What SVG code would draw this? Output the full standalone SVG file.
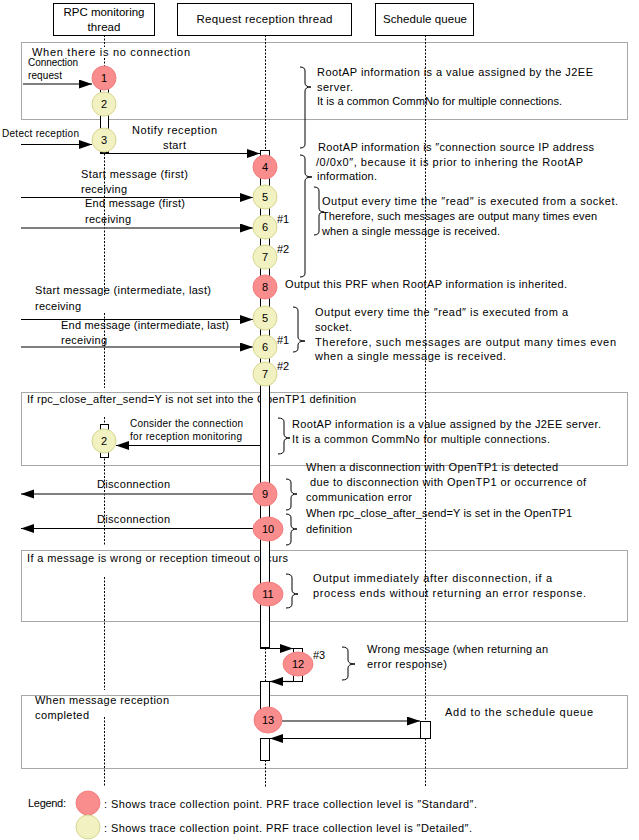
<svg xmlns="http://www.w3.org/2000/svg" width="639" height="840" viewBox="0 0 639 840">
<defs>
<marker id="ah" markerUnits="userSpaceOnUse" markerWidth="14" markerHeight="10" refX="13" refY="4.5" orient="auto">
<path d="M0,0 L13,4.5 L0,9 z" fill="#000"/>
</marker>
</defs>
<style>
text{font-family:"Liberation Sans",Arial,sans-serif;font-size:11px;fill:#000}
.sm{font-size:10px}
.hd{font-size:11.5px;text-anchor:middle}
.num{font-size:11px;text-anchor:middle}
.frame{fill:none;stroke:#a8a8a8;stroke-width:1}
.box{fill:#fff;stroke:#000;stroke-width:1}
.life{stroke:#000;stroke-width:1;stroke-dasharray:2,1.5;fill:none}
.bar{fill:#fff;stroke:#000;stroke-width:1}
.pk{fill:#f98d8d;stroke:#f47e7e;stroke-width:1}
.ye{fill:#f1f1c2;stroke:#d6d690;stroke-width:1}
.msg{stroke:#000;stroke-width:1.2;fill:none;marker-end:url(#ah)}
.gmsg{stroke:#555;stroke-width:1.6;fill:none;marker-end:url(#ah)}
.br{fill:none;stroke:#000;stroke-width:1}
</style>
<rect width="639" height="840" fill="#fff"/>

<!-- frames -->
<g id="frames">
<rect class="frame" x="21.5" y="42.5" width="606" height="77"/>
<rect class="frame" x="21.5" y="392.5" width="606" height="73"/>
<rect class="frame" x="21.5" y="550.5" width="606" height="71"/>
<rect class="frame" x="21.5" y="695.5" width="606" height="73"/>
<text x="32" y="56" textLength="158" lengthAdjust="spacing">When there is no connection</text>
<text x="27" y="403" textLength="329" lengthAdjust="spacing">If rpc_close_after_send=Y is not set into the OpenTP1 definition</text>
<text x="27" y="562" textLength="261" lengthAdjust="spacing">If a message is wrong or reception timeout occurs</text>
<text x="35" y="704" textLength="134" lengthAdjust="spacing">When message reception</text>
<text x="35" y="719" textLength="54" lengthAdjust="spacing">completed</text>
</g>

<!-- lifelines -->
<g id="lifelines">
<path class="life" d="M104.5,35 V47 M104.5,58 V70 M104.5,150 V295 M104.5,313 V388 M104.5,417 V426 M104.5,455 V545 M104.5,577 V690 M104.5,717 V787"/>
<path class="life" d="M265.5,35 V150 M265.5,648 V682 M265.5,760 V787"/>
<path class="life" d="M425.5,35 V787"/>
</g>

<!-- headers -->
<g id="rpc-thread">
<rect class="box" x="53.5" y="3.5" width="101" height="32"/>
<text class="hd" x="104" y="16" textLength="81" lengthAdjust="spacing">RPC monitoring</text>
<text class="hd" x="104" y="31" textLength="33" lengthAdjust="spacing">thread</text>
</g>
<g id="request-thread">
<rect class="box" x="177.5" y="3.5" width="174" height="32"/>
<text class="hd" x="264.5" y="23" textLength="136" lengthAdjust="spacing">Request reception thread</text>
</g>
<g id="schedule-queue">
<rect class="box" x="375.5" y="3.5" width="98" height="32"/>
<text class="hd" x="425" y="23" textLength="84" lengthAdjust="spacing">Schedule queue</text>
</g>

<!-- activation bars -->
<g id="bars">
<rect class="bar" x="100.5" y="80.5" width="8" height="72"/>
<rect class="bar" x="260.5" y="150.5" width="9" height="497"/>
<rect class="bar" x="100.5" y="424.5" width="8" height="33"/>
<rect class="bar" x="293.5" y="648.5" width="9" height="33"/>
<rect class="bar" x="260.5" y="681.5" width="9" height="40"/>
<rect class="bar" x="260.5" y="738.5" width="9" height="22"/>
<rect class="bar" x="420.5" y="721.5" width="10" height="17"/>
</g>

<!-- connectors -->
<g id="connectors">
<line class="gmsg" x1="23" y1="84" x2="92" y2="84"/>
<line class="msg" x1="21" y1="144.5" x2="92" y2="144.5"/>
<line class="msg" x1="100" y1="153.5" x2="260" y2="153.5"/>
<line class="msg" x1="21" y1="197.5" x2="253" y2="197.5"/>
<line class="gmsg" x1="21" y1="228" x2="253" y2="228"/>
<line class="msg" x1="21" y1="319.5" x2="253" y2="319.5"/>
<line class="gmsg" x1="21" y1="347" x2="253" y2="347"/>
<line class="msg" x1="260" y1="445.5" x2="116" y2="445.5"/>
<line class="gmsg" x1="253" y1="494" x2="21" y2="494"/>
<line class="msg" x1="253" y1="528.5" x2="21" y2="528.5"/>
<line class="msg" x1="260" y1="648.5" x2="293" y2="648.5"/>
<line class="msg" x1="293" y1="681.5" x2="270" y2="681.5"/>
<line class="gmsg" x1="282" y1="721" x2="420" y2="721"/>
<line class="msg" x1="420" y1="738.5" x2="270" y2="738.5"/>
</g>

<!-- connector labels -->
<g id="labels">
<text class="sm" x="28" y="66" textLength="50" lengthAdjust="spacing">Connection</text>
<text class="sm" x="28" y="79" textLength="34" lengthAdjust="spacing">request</text>
<text class="sm" x="2" y="137" textLength="77" lengthAdjust="spacing">Detect reception</text>
<text x="132" y="134" textLength="85" lengthAdjust="spacing">Notify reception</text>
<text x="163" y="149" textLength="23" lengthAdjust="spacing">start</text>
<text x="81" y="178" textLength="107" lengthAdjust="spacing">Start message (first)</text>
<text x="81" y="193" textLength="46" lengthAdjust="spacing">receiving</text>
<text x="85" y="207" textLength="100" lengthAdjust="spacing">End message (first)</text>
<text x="85" y="223" textLength="46" lengthAdjust="spacing">receiving</text>
<text x="35" y="294" textLength="176" lengthAdjust="spacing">Start message (intermediate, last)</text>
<text x="35" y="310" textLength="46" lengthAdjust="spacing">receiving</text>
<text x="61" y="329" textLength="168" lengthAdjust="spacing">End message (intermediate, last)</text>
<text x="61" y="344" textLength="46" lengthAdjust="spacing">receiving</text>
<text class="sm" x="130" y="427" textLength="113" lengthAdjust="spacing">Consider the connection</text>
<text class="sm" x="130" y="440" textLength="112" lengthAdjust="spacing">for reception monitoring</text>
<text x="97" y="488" textLength="73" lengthAdjust="spacing">Disconnection</text>
<text x="97" y="523" textLength="73" lengthAdjust="spacing">Disconnection</text>
<text x="277" y="223">#1</text>
<text x="277" y="253">#2</text>
<text x="277" y="344">#1</text>
<text x="277" y="370">#2</text>
<text x="313" y="659">#3</text>
<text x="445" y="716" textLength="148" lengthAdjust="spacing">Add to the schedule queue</text>
</g>

<!-- trace points -->
<g id="p1-conn"><ellipse class="pk" cx="104" cy="78" rx="12" ry="12"/><text class="num" x="104" y="82">1</text></g>
<g id="p2-conn"><ellipse class="ye" cx="104" cy="104" rx="12" ry="12"/><text class="num" x="104" y="108">2</text></g>
<g id="p3"><ellipse class="ye" cx="104" cy="140" rx="12" ry="12"/><text class="num" x="104" y="144">3</text></g>
<g id="p4"><ellipse class="pk" cx="265" cy="167" rx="12" ry="12"/><text class="num" x="265" y="171">4</text></g>
<g id="p5a"><ellipse class="ye" cx="265" cy="197" rx="12" ry="12"/><text class="num" x="265" y="201">5</text></g>
<g id="p6a"><ellipse class="ye" cx="265" cy="227" rx="12" ry="12"/><text class="num" x="265" y="231">6</text></g>
<g id="p7a"><ellipse class="ye" cx="265" cy="257" rx="12" ry="12"/><text class="num" x="265" y="261">7</text></g>
<g id="p8"><ellipse class="pk" cx="265" cy="287" rx="12" ry="12"/><text class="num" x="265" y="291">8</text></g>
<g id="p5b"><ellipse class="ye" cx="265" cy="318" rx="12" ry="12"/><text class="num" x="265" y="322">5</text></g>
<g id="p6b"><ellipse class="ye" cx="265" cy="347" rx="12" ry="12"/><text class="num" x="265" y="351">6</text></g>
<g id="p7b"><ellipse class="ye" cx="265" cy="374" rx="12" ry="12"/><text class="num" x="265" y="378">7</text></g>
<g id="p2-mon"><ellipse class="ye" cx="104" cy="441" rx="12" ry="12"/><text class="num" x="104" y="445">2</text></g>
<g id="p9"><ellipse class="pk" cx="265" cy="494" rx="12" ry="12"/><text class="num" x="265" y="498">9</text></g>
<g id="p10"><ellipse class="pk" cx="268" cy="529" rx="15" ry="12"/><text class="num" x="268" y="533">10</text></g>
<g id="p11"><ellipse class="pk" cx="268" cy="594" rx="15" ry="12"/><text class="num" x="268" y="598">11</text></g>
<g id="p12"><ellipse class="pk" cx="298" cy="664" rx="15" ry="12"/><text class="num" x="298" y="668">12</text></g>
<g id="p13"><ellipse class="pk" cx="268" cy="720" rx="14" ry="13"/><text class="num" x="268" y="724">13</text></g>

<!-- braces and notes -->
<g id="note1">
<path class="br" d="M300,67 Q305,67 305,71 L305,83 Q305,87 311,87 Q305,87 305,91 L305,144 Q305,148 300,148"/>
<text x="317" y="76" textLength="276" lengthAdjust="spacing">RootAP information is a value assigned by the J2EE</text>
<text x="317" y="91" textLength="36" lengthAdjust="spacing">server.</text>
<text x="317" y="105" textLength="245" lengthAdjust="spacing">It is a common CommNo for multiple connections.</text>
</g>
<g id="note2">
<path class="br" d="M300,155 Q305,155 305,159 L305,173 Q305,177 312,177 Q305,177 305,181 L305,273 Q305,277 300,277"/>
<text x="318" y="151" textLength="276" lengthAdjust="spacing">RootAP information is ″connection source IP address</text>
<text x="316" y="166" textLength="267" lengthAdjust="spacing">/0/0x0″, because it is prior to inhering the RootAP</text>
<text x="317" y="180" textLength="60" lengthAdjust="spacing">information.</text>
</g>
<g id="note3">
<path class="br" d="M314,187 Q319,187 319,191 L319,208 Q319,212 324,212 Q319,212 319,216 L319,231 Q319,235 314,235"/>
<text x="322" y="205" textLength="296" lengthAdjust="spacing">Output every time the ″read″ is executed from a socket.</text>
<text x="322" y="220" textLength="275" lengthAdjust="spacing">Therefore, such messages are output many times even</text>
<text x="322" y="235" textLength="178" lengthAdjust="spacing">when a single  message is received.</text>
</g>
<g id="note4">
<text x="285" y="288" textLength="282" lengthAdjust="spacing">Output this PRF when RootAP information is inherited.</text>
</g>
<g id="note5">
<path class="br" d="M293,307 Q298,307 298,311 L298,337 Q298,341 305,341 Q298,341 298,345 L298,348 Q298,352 293,352"/>
<text x="315" y="316" textLength="253" lengthAdjust="spacing">Output every time the ″read″ is executed from a</text>
<text x="315" y="331" textLength="37" lengthAdjust="spacing">socket.</text>
<text x="315" y="346" textLength="301" lengthAdjust="spacing">Therefore, such messages are output many times even</text>
<text x="315" y="360" textLength="191" lengthAdjust="spacing">when a single  message is received.</text>
</g>
<g id="note6">
<path class="br" d="M278,418 Q284,418 284,422 L284,434 Q284,438 290,438 Q284,438 284,442 L284,450 Q284,454 278,454"/>
<text x="292" y="428" textLength="309" lengthAdjust="spacing">RootAP information is a value assigned by the J2EE server.</text>
<text x="292" y="443" textLength="258" lengthAdjust="spacing">It is a common CommNo for multiple connections.</text>
</g>
<g id="note7">
<path class="br" d="M286,479 Q291,479 291,483 L291,490 Q291,494 297,494 Q291,494 291,498 L291,506 Q291,510 286,510"/>
<text x="306" y="471" textLength="252" lengthAdjust="spacing">When a disconnection with OpenTP1 is detected</text>
<text x="310" y="486" textLength="276" lengthAdjust="spacing">due to disconnection with OpenTP1 or occurrence of</text>
<text x="306" y="501" textLength="106" lengthAdjust="spacing">communication error</text>
</g>
<g id="note8">
<path class="br" d="M286,514 Q291,514 291,518 L291,525 Q291,529 297,529 Q291,529 291,533 L291,541 Q291,545 286,545"/>
<text x="306" y="517" textLength="266" lengthAdjust="spacing">When rpc_close_after_send=Y is set in the OpenTP1</text>
<text x="306" y="533" textLength="46" lengthAdjust="spacing">definition</text>
</g>
<g id="note9">
<path class="br" d="M286,574 Q292,574 292,578 L292,590 Q292,594 298,594 Q292,594 292,598 L292,604 Q292,608 286,608"/>
<text x="313" y="582" textLength="239" lengthAdjust="spacing">Output immediately after disconnection, if a</text>
<text x="313" y="597" textLength="273" lengthAdjust="spacing">process ends without returning an error response.</text>
</g>
<g id="note10">
<path class="br" d="M342,647 Q348,647 348,651 L348,660 Q348,664 355,664 Q348,664 348,668 L348,676 Q348,680 342,680"/>
<text x="367" y="653" textLength="181" lengthAdjust="spacing">Wrong message (when returning an</text>
<text x="367" y="668" textLength="80" lengthAdjust="spacing">error response)</text>
</g>

<!-- legend -->
<g id="legend">
<text x="28" y="807" textLength="38" lengthAdjust="spacing">Legend:</text>
<ellipse class="pk" cx="88" cy="803" rx="12" ry="12"/>
<ellipse class="ye" cx="88" cy="827" rx="12" ry="12"/>
<text x="104" y="808" textLength="373" lengthAdjust="spacing">: Shows trace collection point. PRF trace collection level is ″Standard″.</text>
<text x="104" y="832" textLength="368" lengthAdjust="spacing">: Shows trace collection point. PRF trace collection level is ″Detailed″.</text>
</g>
</svg>
